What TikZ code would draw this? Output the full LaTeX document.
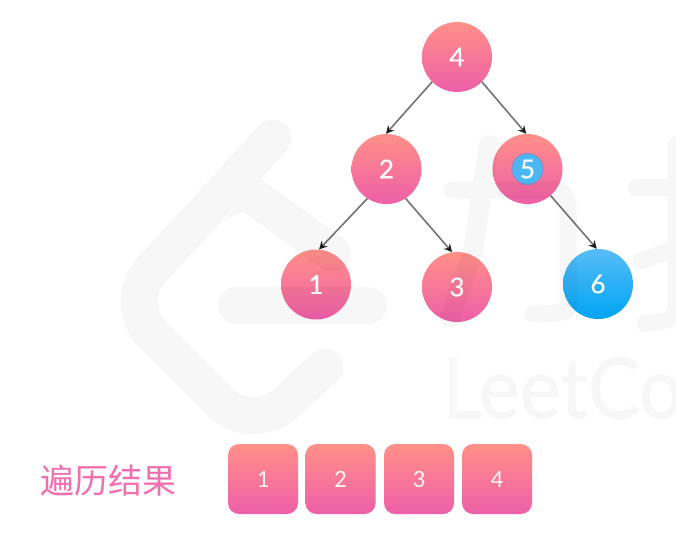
\documentclass[tikz,border=0pt]{standalone}
\usepackage{fontspec}
\setmainfont{Lato}
\newfontfamily\numfont[FakeBold=0.35]{Lato}
\newfontfamily\wmfont[FakeBold=1.2]{Lato}
\newfontfamily\cjk{Noto Sans CJK SC}
\newfontfamily\carl{Carlito}
\usetikzlibrary{arrows.meta}
\definecolor{pinktop}{HTML}{FF9088}
\definecolor{pinkbot}{HTML}{EE5FA8}
\definecolor{bluetop}{HTML}{58BCF6}
\definecolor{bluebot}{HTML}{00A4F4}
\definecolor{labelpink}{HTML}{F26EAE}
\tikzset{
  treenode/.style={circle,minimum size=70pt,inner sep=0pt,top color=pinktop,bottom color=pinkbot,text=white,font=\numfont\fontsize{26}{26}\selectfont},
  bluenode/.style={treenode,top color=bluetop,bottom color=bluebot},
  cellbox/.style={rectangle,rounded corners=11pt,minimum size=70pt,inner sep=0pt,top color=pinktop,bottom color=pinkbot,text=white!90!pinktop,font=\carl\fontsize{25}{25}\selectfont},
  edge/.style={draw=black!55,line width=1.6pt,-{Stealth[length=8pt,width=8pt,color=black!88]}},
  wmbig/.style={line width=37pt,line cap=round,line join=round},
  wmthin/.style={line width=17pt,line cap=round,line join=round},
}
\begin{document}
\begin{tikzpicture}[x=1pt,y=-1pt]
\useasboundingbox (0,0) rectangle (676,546);
\fill[white] (0,0) rectangle (676,546);
% tree
\node[treenode] (n4) at (457,57) {4};
\node[treenode] (n2) at (386.5,169) {2};
\node[treenode] (n5) at (527.5,169) {};
\node[treenode] (n1) at (316,284.5) {1};
\node[treenode] (n3) at (457,287) {3};
\node[bluenode] (n6) at (598,284) {6};
\node[circle,minimum size=31pt,inner sep=0pt,fill=bluetop!85!bluebot,draw=black!10!bluetop!60!pinkbot,line width=1.2pt,text=white,font=\numfont\fontsize{26}{26}\selectfont] (c5) at (n5) {5};
\draw[edge] (n4.225) -- (n2.91);
\draw[edge] (n4.315) -- (n5.92);
\draw[edge] (n2.237) -- (n1.85);
\draw[edge] (n2.303) -- (n3.98);
\draw[edge] (n5.311) -- (n6.92);
% result row
\node[text=labelpink,font=\cjk\fontsize{34}{34}\selectfont,inner sep=0pt] (lab) at (108,481) {遍历结果};
\node[cellbox] (r1) at (263,479) {1};
\node[cellbox] (r2) at (340.5,479) {2};
\node[cellbox] (r3) at (419,479) {3};
\node[cellbox] (r4) at (497,479) {4};
% watermark, laid faintly over everything
\begin{scope}
\clip (0,0) rectangle (676,546);
\begin{scope}[transparency group,opacity=0.032]
% logo
\draw[wmbig,rounded corners=45pt] (273,138) -- (121,303) -- (252,434) -- (325,367);
\draw[wmbig] (240,187) -- (332,253);
\fill (220,225) .. controls (235,208) and (260,208) .. (280,224) -- (250,190) -- cycle;
\draw[wmbig] (236.5,305.5) -- (368.5,305.5);
% li
\draw[wmthin,rounded corners=14pt] (452,190) -- (568,190) -- (568,295) .. controls (568,312) and (555,314) .. (533,314);
\draw[line width=20pt,line cap=round] (489,145) -- (473,250) -- (450,318);
% kou
\draw[wmthin] (636,187.5) -- (690,187.5);
\draw[wmthin] (641,261) -- (690,243);
\draw[wmthin] (676,145) -- (676,305) .. controls (676,320) and (665,323) .. (645,323);
\node[anchor=base west,inner sep=0pt,xscale=0.92,transform shape,font=\wmfont\fontsize{84}{84}\selectfont] (wm) at (442,418) {LeetCo};
\end{scope}
\end{scope}
\end{tikzpicture}
\end{document}
